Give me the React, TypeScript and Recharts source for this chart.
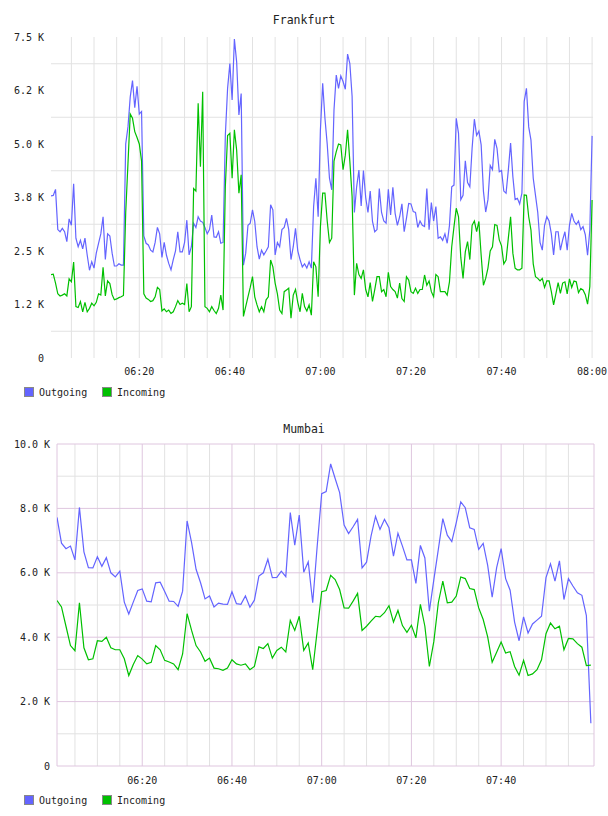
import React from 'react';
import { LineChart, Line, XAxis, YAxis, CartesianGrid } from 'recharts';

const FONT = '"DejaVu Sans Mono", monospace';
const OUT_COLOR = '#6464ff';
const IN_COLOR = '#00c000';
const GRID_GREY = '#e2e2e2';
const GRID_PINK = '#dfc6df';

// time axis (minutes after 06:00)
const timeTicks = [20, 40, 60, 80, 100, 120];
const timeLabels = ['06:20', '06:40', '07:00', '07:20', '07:40', '08:00'];
const fiveMinLines = [5, 10, 15, 20, 25, 30, 35, 40, 45, 50, 55, 60, 65, 70, 75, 80, 85, 90, 95, 100, 105, 110, 115, 120];

// Frankfurt, 30 s samples from 06:00:30, values in K
const fraOutgoing = [
  3.79, 3.8, 3.94, 3.0, 2.95, 3.03, 2.95, 2.72, 3.25, 3.1,
  4.07, 2.8, 2.6, 2.75, 2.55, 2.8, 2.4, 2.05, 2.25, 2.1,
  2.45, 2.68, 2.9, 3.3, 2.3, 2.9, 2.85, 2.45, 2.15, 2.15,
  2.2, 2.17, 2.17, 5.0, 5.4, 6.1, 6.48, 5.85, 6.35, 5.7,
  5.76, 2.85, 2.68, 2.64, 2.52, 2.48, 2.7, 3.05, 2.9, 2.35,
  2.7, 2.4, 2.21, 2.06, 2.3, 2.5, 2.95, 2.48, 2.48, 2.7,
  3.22, 2.41, 2.6, 3.15, 3.05, 3.3, 3.2, 3.17, 3.05, 2.9,
  3.0, 3.34, 2.83, 2.82, 2.95, 2.68, 2.7, 5.2, 6.3, 6.88,
  6.03, 7.45, 6.92, 5.68, 6.18, 2.17, 2.45, 3.1, 3.15, 3.46,
  3.19, 2.6, 2.31, 2.52, 2.41, 2.5, 2.6, 3.58, 3.46, 2.41,
  2.7, 2.6, 3.0, 3.05, 3.26, 3.0, 2.3, 2.6, 3.03, 2.5,
  2.3, 2.13, 2.2, 2.1, 2.25, 2.1, 3.54, 4.2, 3.3, 5.33,
  6.42, 5.6, 5.0, 4.2, 3.93, 5.8, 6.61, 6.3, 6.59, 6.46,
  6.28, 7.1, 6.88, 6.11, 3.4, 4.0, 4.39, 3.55, 4.38, 3.75,
  3.4, 3.9, 3.19, 2.95, 3.0, 3.96, 3.4, 3.2, 3.15, 3.94,
  3.34, 3.99, 3.38, 3.1, 3.3, 3.6, 2.95, 3.26, 3.61, 3.6,
  3.42, 3.4, 3.05, 3.2, 3.1, 3.07, 3.96, 3.0, 3.63, 3.2,
  3.54, 2.8, 2.83, 2.75, 2.9, 2.68, 3.1, 4.0, 4.04, 5.6,
  5.25, 3.7, 3.8, 4.61, 4.1, 4.0, 4.9, 5.58, 5.2, 5.3,
  4.98, 3.9, 3.41, 3.7, 4.5, 4.4, 5.11, 4.9, 4.35, 4.38,
  3.9, 3.85, 4.39, 5.02, 4.24, 3.7, 3.73, 3.6, 3.85, 5.99,
  6.3, 5.4, 5.09, 4.2, 3.8, 3.4, 2.7, 2.52, 3.1, 3.3,
  3.2, 2.9, 2.41, 2.95, 2.95, 2.52, 2.76, 2.95, 2.52, 3.1,
  3.38, 3.2, 3.12, 3.2, 3.0, 3.07, 2.88, 2.4, 2.99, 5.19,
];
const fraIncoming = [
  1.95, 1.96, 1.75, 1.5, 1.45, 1.47, 1.5, 1.45, 1.85, 1.78,
  2.24, 1.2, 1.18, 1.32, 1.08, 1.3, 1.08, 1.16, 1.28, 1.22,
  1.3, 1.5, 1.47, 2.12, 1.45, 1.8, 1.74, 1.48, 1.36, 1.38,
  1.41, 1.43, 1.46, 3.4, 4.55, 5.7, 5.6, 5.29, 5.15, 5.0,
  4.6, 1.5, 1.4, 1.37, 1.32, 1.34, 1.43, 1.65, 1.6, 1.1,
  1.15, 1.08, 1.12, 1.04, 1.08, 1.2, 1.34, 1.25, 1.28, 1.25,
  1.74, 1.08, 1.2, 3.96, 3.9, 5.95, 4.47, 6.22, 1.2, 1.16,
  1.08, 1.2, 1.11, 1.04, 1.16, 1.47, 1.12, 4.0, 5.2, 5.25,
  4.2, 5.33, 4.86, 3.85, 4.28, 0.97, 1.2, 1.43, 1.65, 1.9,
  1.43, 1.24, 1.08, 1.2, 1.08, 1.36, 1.43, 2.29, 2.13, 1.75,
  1.5, 1.12, 1.04, 1.55, 1.59, 1.63, 0.93, 1.47, 1.6, 1.3,
  1.08, 1.51, 1.2, 1.1, 1.24, 1.0, 2.25, 2.13, 1.43, 3.07,
  3.85, 3.85, 3.2, 2.7, 2.8, 4.6, 4.82, 5.0, 4.98, 4.4,
  4.74, 5.33, 4.59, 3.77, 1.47, 2.21, 1.95, 1.86, 2.06, 1.6,
  1.43, 1.76, 1.32, 1.6, 1.9, 1.9, 1.55, 1.6, 1.43, 2.0,
  1.67, 1.6, 1.55, 1.4, 1.75, 1.39, 1.32, 1.9, 1.82, 1.55,
  1.51, 1.63, 1.51, 1.6, 1.6, 1.94, 1.7, 1.8, 1.55, 1.43,
  1.95, 1.9, 1.55, 1.55, 1.55, 1.47, 1.78, 2.6, 3.07, 3.5,
  3.3, 2.35, 1.86, 2.48, 2.72, 2.3, 3.1, 3.2, 2.95, 3.19,
  2.4, 1.7, 1.86, 2.1, 2.5, 2.6, 3.12, 3.1, 2.76, 2.62,
  2.2, 2.29, 2.8, 3.3, 2.45, 2.1, 2.06, 2.06, 2.1, 3.81,
  3.8, 3.3, 2.99, 2.2, 1.9, 1.86, 1.8, 1.86, 1.65, 1.8,
  1.8, 1.55, 1.24, 1.5, 1.76, 1.51, 1.75, 1.78, 1.5, 1.85,
  1.65, 1.8, 1.78, 1.53, 1.62, 1.59, 1.48, 1.26, 1.67, 3.69,
];
const fraYTicks = [0, 1.25, 2.5, 3.75, 5, 6.25, 7.5];
const fraYLabels = ['0', '1.2 K', '2.5 K', '3.8 K', '5.0 K', '6.2 K', '7.5 K'];
const fraGridY = [0.625, 1.875, 3.125, 4.375, 5.625, 6.875];

// Mumbai, 1 min samples from 06:01, values in K
const mumOutgoing = [
  7.72, 6.92, 6.75, 6.83, 6.4, 8.03, 6.65, 6.16, 6.15, 6.5,
  6.2, 6.47, 6.0, 5.87, 6.05, 5.09, 4.72, 5.09, 5.45, 5.5,
  5.12, 5.1, 5.69, 5.71, 5.42, 5.12, 5.11, 4.96, 5.43, 7.61,
  6.94, 6.11, 5.69, 5.19, 5.28, 4.94, 5.06, 5.03, 5.02, 5.41,
  5.04, 5.02, 5.28, 4.93, 5.15, 5.9, 6.0, 6.42, 5.85, 5.86,
  6.05, 5.88, 7.87, 6.86, 7.79, 6.02, 6.34, 5.07, 6.83, 8.46,
  8.52, 9.38, 8.93, 8.49, 7.48, 7.22, 7.43, 7.66, 6.15, 6.33,
  7.14, 7.75, 7.35, 7.66, 7.4, 6.52, 7.23, 6.83, 6.4, 6.4,
  5.67, 6.85, 6.46, 4.81, 5.79, 6.73, 7.68, 7.17, 6.97, 7.56,
  8.2, 8.02, 7.4, 7.35, 6.73, 6.91, 6.23, 5.24, 6.16, 6.75,
  5.82, 5.46, 4.47, 3.89, 4.63, 4.13, 4.41, 4.53, 4.65, 5.85,
  6.28, 5.74, 6.37, 5.17, 5.82, 5.59, 5.38, 5.3, 4.67, 1.33,
];
const mumIncoming = [
  5.14, 4.94, 4.34, 3.74, 3.58, 5.07, 3.67, 3.3, 3.33, 3.89,
  3.87, 4.0, 3.67, 3.61, 3.61, 3.33, 2.81, 3.15, 3.43, 3.32,
  3.17, 3.22, 3.74, 3.61, 3.28, 3.23, 3.17, 2.99, 3.48, 4.73,
  4.21, 3.74, 3.54, 3.25, 3.35, 3.04, 3.02, 2.97, 3.04, 3.3,
  3.17, 3.13, 3.17, 2.99, 3.09, 3.7, 3.65, 3.8, 3.35, 3.59,
  3.69, 3.54, 4.52, 4.21, 4.65, 3.59, 3.82, 2.99, 4.2, 5.41,
  5.45, 5.92, 5.79, 5.48, 4.91, 4.9, 5.12, 5.36, 4.21, 4.34,
  4.5, 4.65, 4.63, 4.76, 4.98, 4.47, 4.83, 4.36, 4.15, 4.37,
  3.98, 5.02, 4.34, 3.09, 3.87, 5.07, 5.74, 5.07, 5.09, 5.28,
  5.87, 5.82, 5.51, 5.48, 4.91, 4.55, 4.01, 3.22, 3.53, 3.85,
  3.51, 3.55, 3.09, 2.82, 3.28, 2.81, 2.86, 2.99, 3.3, 4.11,
  4.44, 4.26, 4.34, 3.61, 3.96, 3.95, 3.8, 3.69, 3.12, 3.13,
];
const mumYTicks = [0, 2, 4, 6, 8, 10];
const mumYLabels = ['0', '2.0 K', '4.0 K', '6.0 K', '8.0 K', '10.0 K'];
const mumGridGrey = [1, 3, 5, 7, 9];
const mumGridPink = [0, 2, 4, 6, 8, 10];
const mumTimeTicks = [20, 40, 60, 80, 100];
const mumVGrey = [5, 10, 15, 25, 30, 35, 45, 50, 55, 65, 70, 75, 85, 90, 95, 105, 110, 115];
const mumVPink = [1, 20, 40, 60, 80, 100, 120.7];

const fraData = fraOutgoing.map((v, i) => ({ t: 0.5 + i * 0.5, out: v, inc: fraIncoming[i] }));
const mumData = mumOutgoing.map((v, i) => ({ t: 1 + i, out: v, inc: mumIncoming[i] }));

const tickStyle = { fontSize: 10, fill: '#222', fontFamily: FONT };
const fmtTime = (v: number) => timeLabels[timeTicks.indexOf(v)] ?? '';

const Title = ({ text, top }: { text: string; top: number }) => (
  <div
    style={{
      position: 'absolute',
      top,
      left: 0,
      width: 608,
      textAlign: 'center',
      fontFamily: FONT,
      fontSize: 11.5,
      lineHeight: '14px',
      color: '#222',
    }}
  >
    {text}
  </div>
);

const Legend = ({ top }: { top: number }) => {
  const items = [
    { name: 'Outgoing', color: OUT_COLOR, x: 24 },
    { name: 'Incoming', color: IN_COLOR, x: 102 },
  ];
  return (
    <>
      {items.map((it) => (
        <div key={it.name} style={{ position: 'absolute', top, left: it.x, height: 12, display: 'flex', alignItems: 'center' }}>
          <span
            style={{
              display: 'inline-block',
              width: 8,
              height: 8,
              background: it.color,
              border: '1px solid #888',
            }}
          />
          <span style={{ marginLeft: 5, fontFamily: FONT, fontSize: 10, color: '#222' }}>{it.name}</span>
        </div>
      ))}
    </>
  );
};

export default function App() {
  return (
    <div style={{ position: 'absolute', left: 0, top: 0, width: 608, height: 816, background: '#fff' }}>
      <Title text="Frankfurt" top={13} />
      <div style={{ position: 'absolute', left: 0, top: 0 }}>
        <LineChart width={608} height={400} data={fraData} margin={{ top: 37, right: 15, bottom: 0, left: 0 }}>
          <CartesianGrid
            stroke={GRID_GREY}
            horizontalValues={fraGridY}
            verticalValues={fiveMinLines}
          />
          <XAxis
            dataKey="t"
            type="number"
            domain={[0.5, 120.2]}
            allowDataOverflow
            ticks={timeTicks}
            interval={0}
            tickFormatter={fmtTime}
            tick={tickStyle}
            axisLine={false}
            tickLine={false}
            tickSize={0}
            tickMargin={10}
            height={42}
          />
          <YAxis
            type="number"
            domain={[0, 7.5]}
            ticks={fraYTicks}
            interval={0}
            tickFormatter={(v: number) => fraYLabels[fraYTicks.indexOf(v)] ?? ''}
            tick={tickStyle}
            axisLine={false}
            tickLine={false}
            tickSize={0}
            tickMargin={7}
            width={51}
          />
          <Line type="linear" dataKey="out" stroke={OUT_COLOR} strokeWidth={1.2} dot={false} isAnimationActive={false} />
          <Line type="linear" dataKey="inc" stroke={IN_COLOR} strokeWidth={1.2} dot={false} isAnimationActive={false} />
        </LineChart>
      </div>
      <Legend top={386} />

      <Title text="Mumbai" top={422} />
      <div style={{ position: 'absolute', left: 0, top: 400 }}>
        <LineChart width={608} height={400} data={mumData} margin={{ top: 44, right: 14, bottom: 0, left: 0 }}>
          <CartesianGrid stroke={GRID_GREY} horizontalValues={mumGridGrey} verticalValues={mumVGrey} />
          <CartesianGrid stroke={GRID_PINK} horizontalValues={mumGridPink} verticalValues={mumVPink} />
          <XAxis
            dataKey="t"
            type="number"
            domain={[1, 120.7]}
            allowDataOverflow
            ticks={mumTimeTicks}
            interval={0}
            tickFormatter={fmtTime}
            tick={tickStyle}
            axisLine={false}
            tickLine={false}
            tickSize={0}
            tickMargin={11}
            height={34}
          />
          <YAxis
            type="number"
            domain={[0, 10]}
            ticks={mumYTicks}
            interval={0}
            tickFormatter={(v: number) => mumYLabels[mumYTicks.indexOf(v)] ?? ''}
            tick={tickStyle}
            axisLine={false}
            tickLine={false}
            tickSize={0}
            tickMargin={7}
            width={57}
          />
          <Line type="linear" dataKey="out" stroke={OUT_COLOR} strokeWidth={1.2} dot={false} isAnimationActive={false} />
          <Line type="linear" dataKey="inc" stroke={IN_COLOR} strokeWidth={1.2} dot={false} isAnimationActive={false} />
        </LineChart>
      </div>
      <Legend top={794} />
    </div>
  );
}
